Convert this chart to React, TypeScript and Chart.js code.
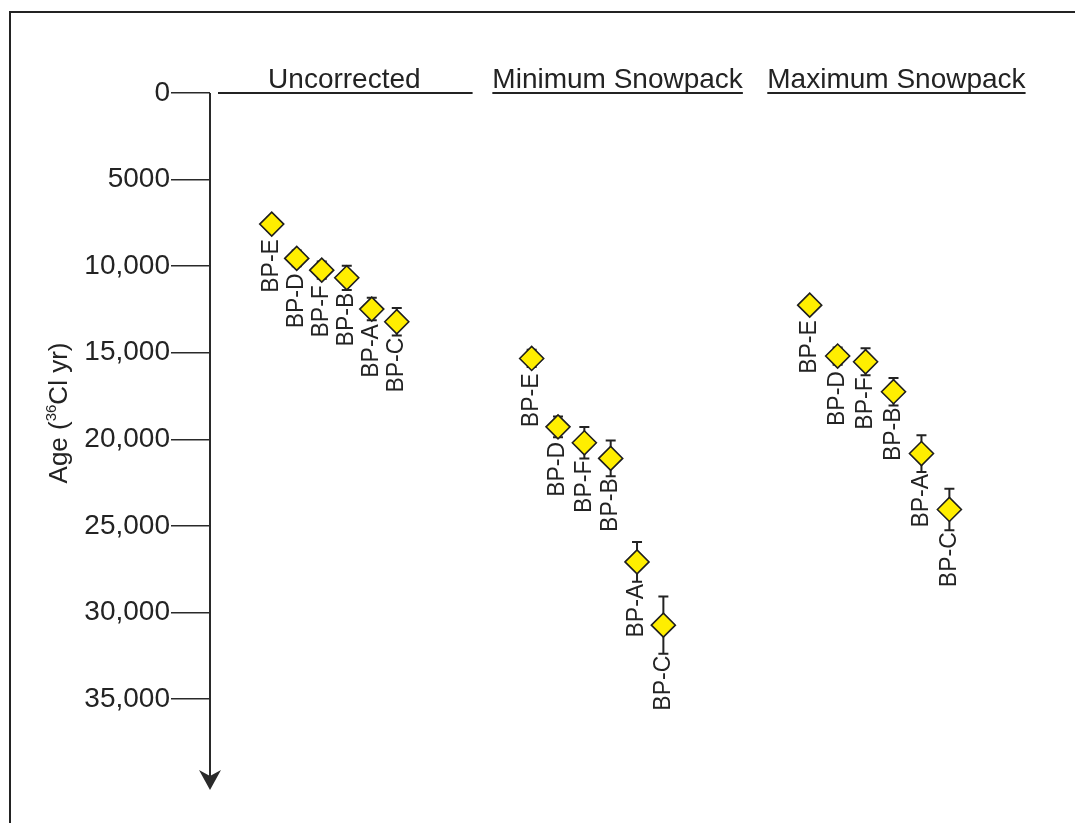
import React, { useEffect, useRef } from 'react';
import { Chart, registerables } from 'chart.js';

Chart.register(...registerables);

// ---------- data ----------
const groupNames = ['Uncorrected', 'Minimum Snowpack', 'Maximum Snowpack'];
const sampleNames = ['BP-E', 'BP-D', 'BP-F', 'BP-B', 'BP-A', 'BP-C'];

const uncorrectedAges = [7570, 9550, 10230, 10670, 12480, 13210];
const uncorrectedErrors = [400, 450, 500, 700, 650, 800];

const minimumAges = [15330, 19280, 20200, 21100, 27080, 30730];
const minimumErrors = [500, 600, 910, 1030, 1150, 1650];

const maximumAges = [12250, 15190, 15520, 17250, 20820, 24050];
const maximumErrors = [400, 500, 780, 790, 1060, 1200];

const yTickValues = [0, 5000, 10000, 15000, 20000, 25000, 30000, 35000];
const yTickLabels = ['0', '5000', '10,000', '15,000', '20,000', '25,000', '30,000', '35,000'];

const groupAges = [uncorrectedAges, minimumAges, maximumAges];
const groupErrors = [uncorrectedErrors, minimumErrors, maximumErrors];

// ---------- layout (x-axis units) ----------
const groupStart = [2.32, 12.09, 22.54];
const groupStep = [0.94, 0.99, 1.05];
const headerCenter = [5.05, 15.32, 25.8];
const uncorrectedRuleEnd = 9.87;

const FONT = '"Liberation Sans", Arial, Helvetica, sans-serif';
const INK = '#232323';

const overlay = {
  id: 'overlay',
  beforeDatasetsDraw(chart: any) {
    const ctx = chart.ctx;
    const xs = chart.scales.x;
    const ys = chart.scales.y;
    ctx.save();
    ctx.strokeStyle = INK;
    ctx.lineWidth = 2;
    chart.data.datasets.forEach((ds: any, g: number) => {
      ds.data.forEach((p: any, i: number) => {
        const e = groupErrors[g][i];
        const px = xs.getPixelForValue(p.x);
        const t = ys.getPixelForValue(p.y - e);
        const b = ys.getPixelForValue(p.y + e);
        ctx.beginPath();
        ctx.moveTo(px, t);
        ctx.lineTo(px, b);
        ctx.moveTo(px - 5, t);
        ctx.lineTo(px + 5, t);
        ctx.moveTo(px - 5, b);
        ctx.lineTo(px + 5, b);
        ctx.stroke();
      });
    });
    ctx.restore();
  },
  afterDraw(chart: any) {
    const ctx = chart.ctx;
    const xs = chart.scales.x;
    const ys = chart.scales.y;
    const area = chart.chartArea;
    ctx.save();

    // frame (left and top edges)
    ctx.strokeStyle = INK;
    ctx.lineWidth = 2;
    ctx.beginPath();
    ctx.moveTo(10, chart.height);
    ctx.lineTo(10, 12);
    ctx.lineTo(chart.width, 12);
    ctx.stroke();

    // y axis with arrow
    const ax = area.left;
    const y0 = ys.getPixelForValue(0);
    const yEnd = area.bottom;
    ctx.strokeStyle = '#2a2a2a';
    ctx.lineWidth = 2;
    ctx.beginPath();
    ctx.moveTo(ax, y0);
    ctx.lineTo(ax, yEnd - 14);
    ctx.stroke();
    ctx.fillStyle = '#2a2a2a';
    ctx.beginPath();
    ctx.moveTo(ax, yEnd);
    ctx.lineTo(ax - 11, yEnd - 20);
    ctx.lineTo(ax, yEnd - 14);
    ctx.lineTo(ax + 11, yEnd - 20);
    ctx.closePath();
    ctx.fill();

    // headers
    ctx.fillStyle = INK;
    ctx.font = `28px ${FONT}`;
    ctx.textAlign = 'center';
    ctx.textBaseline = 'alphabetic';
    groupNames.forEach((name, g) => {
      const cx = xs.getPixelForValue(headerCenter[g]);
      ctx.fillText(name, cx, 88);
      ctx.lineWidth = 2;
      ctx.strokeStyle = INK;
      ctx.beginPath();
      if (g === 0) {
        ctx.moveTo(ax + 8, y0);
        ctx.lineTo(xs.getPixelForValue(uncorrectedRuleEnd), y0);
      } else {
        const w = ctx.measureText(name).width;
        ctx.moveTo(cx - w / 2, 93);
        ctx.lineTo(cx + w / 2, 93);
      }
      ctx.stroke();
    });

    // sample labels (rotated)
    ctx.font = `23px ${FONT}`;
    ctx.fillStyle = INK;
    chart.data.datasets.forEach((ds: any, g: number) => {
      ds.data.forEach((p: any, i: number) => {
        const px = xs.getPixelForValue(p.x);
        const py = ys.getPixelForValue(p.y);
        const low = ys.getPixelForValue(p.y + groupErrors[g][i]);
        const top = Math.max(py + 15, low + 2);
        ctx.save();
        ctx.translate(px, top);
        ctx.rotate(-Math.PI / 2);
        ctx.textAlign = 'right';
        ctx.textBaseline = 'middle';
        ctx.fillText(sampleNames[i], 0, 0);
        ctx.restore();
      });
    });

    // y-axis title with superscript
    const big = `26px ${FONT}`;
    const small = `15px ${FONT}`;
    const p1 = 'Age (';
    const p2 = '36';
    const p3 = 'Cl yr)';
    ctx.font = big;
    const w1 = ctx.measureText(p1).width;
    const w3 = ctx.measureText(p3).width;
    ctx.font = small;
    const w2 = ctx.measureText(p2).width;
    const total = w1 + w2 + w3;
    ctx.save();
    ctx.translate(58, 413);
    ctx.rotate(-Math.PI / 2);
    ctx.textAlign = 'left';
    ctx.textBaseline = 'alphabetic';
    let cur = -total / 2;
    ctx.font = big;
    ctx.fillText(p1, cur, 9);
    cur += w1;
    ctx.font = small;
    ctx.fillText(p2, cur, -2);
    cur += w2;
    ctx.font = big;
    ctx.fillText(p3, cur, 9);
    ctx.restore();

    ctx.restore();
  },
};

export default function App() {
  const canvasRef = useRef<HTMLCanvasElement | null>(null);

  useEffect(() => {
    document.body.style.margin = '0';
    const canvas = canvasRef.current;
    if (!canvas) return;

    const datasets = groupAges.map((ages, g) => ({
      label: groupNames[g],
      data: ages.map((a, i) => ({ x: groupStart[g] + i * groupStep[g], y: a })),
      pointStyle: 'rectRot',
      pointRadius: 12,
      pointHoverRadius: 12,
      backgroundColor: '#FFEE00',
      borderColor: '#1e1e1e',
      pointBorderWidth: 1.6,
      showLine: false,
    }));

    const chart = new Chart(canvas, {
      type: 'scatter',
      data: { datasets },
      options: {
        animation: false,
        responsive: false,
        maintainAspectRatio: false,
        layout: { padding: { top: 93, bottom: 33, left: 0, right: 0 } },
        plugins: {
          legend: { display: false },
          tooltip: { enabled: false },
          title: { display: false },
        },
        scales: {
          x: { type: 'linear', min: 0, max: 32, display: false },
          y: {
            type: 'linear',
            reverse: true,
            min: 0,
            max: 40250,
            afterFit: (s: any) => {
              s.width = 210;
            },
            afterBuildTicks: (s: any) => {
              s.ticks = yTickValues.map((v) => ({ value: v }));
            },
            border: { display: false },
            grid: {
              drawOnChartArea: false,
              drawTicks: true,
              tickLength: 39,
              color: '#2a2a2a',
              lineWidth: 1.5,
            },
            ticks: {
              padding: 1,
              color: INK,
              font: { size: 28, family: FONT },
              callback: (v: any) => {
                const idx = yTickValues.indexOf(Number(v));
                return idx >= 0 ? yTickLabels[idx] : '';
              },
            },
            title: { display: false },
          },
        },
      },
      plugins: [overlay],
    });

    return () => chart.destroy();
  }, []);

  return (
    <div style={{ position: 'absolute', left: 0, top: 0, width: 1075, height: 823, background: '#fff' }}>
      <canvas ref={canvasRef} width={1075} height={823} style={{ width: 1075, height: 823, display: 'block' }} />
    </div>
  );
}
